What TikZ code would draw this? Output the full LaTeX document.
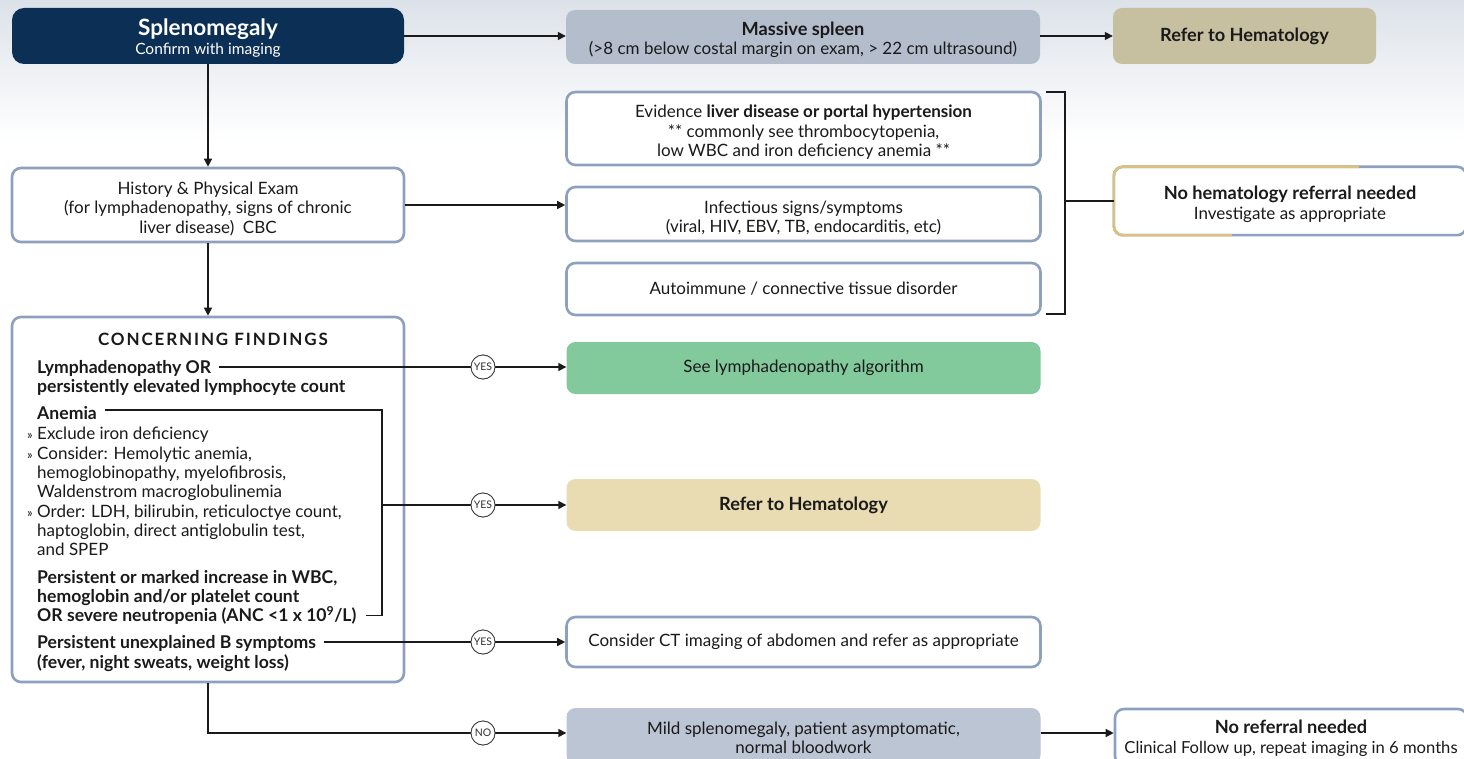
\documentclass[tikz,border=0pt]{standalone}
\usepackage{fontspec}
\setmainfont{Lato}
\usetikzlibrary{arrows.meta,calc}
\definecolor{bgtop}{HTML}{DCE2E9}
\definecolor{navy}{HTML}{0C2F55}
\definecolor{bord}{HTML}{8DA1BE}
\definecolor{massF}{HTML}{B3BDCC}
\definecolor{refTopF}{HTML}{C7C0A0}
\definecolor{greenF}{HTML}{82C99B}
\definecolor{refMidF}{HTML}{E9DCB3}
\definecolor{mildF}{HTML}{BCC5D4}
\definecolor{tanB}{HTML}{D8C27D}
\definecolor{ink}{HTML}{1A1A1A}
% extra height on a first line so that stacked lines sit centred
\newcommand\topfix[1][19]{\rule{0pt}{#1pt}}
\newcommand\hd{\fontsize{18.2}{19.5}\selectfont\bfseries}
\newcommand\gt{\makebox[10pt][l]{\fontsize{13}{13}\selectfont»}}
\begin{document}
\begin{tikzpicture}[x=1pt,y=-1pt,
  box/.style={rounded corners=9pt, minimum width=474pt, minimum height=52pt,
    align=center, inner sep=0pt, text=ink,
    font=\fontsize{17}{19.5}\selectfont},
  outline/.style={box, draw=bord, line width=2.6pt, fill=white},
  filled/.style={box, fill=#1},
  line/.style={line width=1.4pt, draw=ink},
  arr/.style={line, -{Triangle[length=8pt,width=8pt]}},
  yesno/.style={circle, draw=ink!85, line width=0.8pt, fill=white,
    minimum size=24pt, inner sep=0pt, text=ink!90,
    font=\fontsize{10.5}{10.5}\selectfont},
  item/.style={anchor=base west, inner sep=0pt, text=ink,
    font=\fontsize{17}{19}\selectfont},
  bitem/.style={item, font=\fontsize{17.6}{19}\selectfont\bfseries}
]
\useasboundingbox (0,0) rectangle (1464,759);
% soft header band
\shade[top color=bgtop, bottom color=white] (0,0) rectangle (1464,140);

% ---- top row
\node[box, fill=navy, rounded corners=12pt, minimum width=392pt, minimum height=56pt, text=white]
  (spl) at (208,36) {\topfix[21]{\fontsize{22.5}{22}\selectfont\bfseries Splenomegaly}\\[-1pt]
  {\fontsize{15.5}{17}\selectfont Confirm with imaging}};
\node[filled=massF, minimum height=54pt] (mass) at (803,37)
  {\topfix{\hd Massive spleen}\\
  (>8 cm below costal margin on exam, > 22 cm ultrasound)};
\node[filled=refTopF, minimum width=263pt, minimum height=56pt] (reftop) at (1244.5,36)
  {\hd Refer to Hematology};

% ---- differential column
\node[outline, minimum height=73pt] (evid) at (803.5,128.5)
  {\topfix[20]Evidence \textbf{liver disease or portal hypertension}\\
  ** commonly see thrombocytopenia,\\
  low WBC and iron deficiency anemia **};
\node[outline, minimum height=54pt] (infect) at (803.5,214)
  {\topfix[20]Infectious signs/symptoms\\(viral, HIV, EBV, TB, endocarditis, etc)};
\node[outline, minimum height=52pt] (auto) at (803.5,289)
  {Autoimmune / connective tissue disorder};

% ---- history
\node[outline, minimum width=392pt, minimum height=74pt] (hist) at (208,205)
  {\topfix[20]History \& Physical Exam\\(for lymphadenopathy, signs of chronic\\liver disease)\ \ CBC};

% ---- no hematology referral (two-tone outline)
\node[box, minimum width=352pt, minimum height=68pt, fill=white] (nohem) at (1290,201)
  {\topfix[20]{\hd No hematology referral needed}\\
  Investigate as appropriate};
\draw[bord, line width=2.6pt, rounded corners=9pt] (nohem.north west) rectangle (nohem.south east);
\draw[tanB, line width=2.6pt, rounded corners=9pt]
  ($(nohem.north west)+(245,0)$) -| (nohem.south west) -- ($(nohem.south west)+(118,0)$);

% ---- concerning findings panel
\node[box, draw=bord, line width=2.6pt, fill=white, minimum width=392pt, minimum height=365pt]
  (conc) at (208,499.5) {};
\node[anchor=base, inner sep=0pt, text=ink,
  font=\fontsize{17}{18}\selectfont\bfseries\addfontfeatures{LetterSpace=11}]
  (ctitle) at (213,345) {CONCERNING FINDINGS};
\node[bitem] (ly1) at (37,373) {Lymphadenopathy OR};
\node[bitem] (ly2) at (37,392) {persistently elevated lymphocyte count};
\node[bitem] (an) at (37,419.5) {Anemia};
\node[item] (b1) at (27,439) {\gt Exclude iron deficiency};
\node[item] (b2) at (27,459) {\gt Consider: Hemolytic anemia,};
\node[item] (b2a) at (37,478.5) {hemoglobinopathy, myelofibrosis,};
\node[item] (b2b) at (37,497.5) {Waldenstrom macroglobulinemia};
\node[item] (b3) at (27,517) {\gt Order: LDH, bilirubin, reticuloctye count,};
\node[item] (b3a) at (37,536) {haptoglobin, direct antiglobulin test,};
\node[item] (b3b) at (37,555) {and SPEP};
\node[bitem] (wbc1) at (37,583) {Persistent or marked increase in WBC,};
\node[bitem] (wbc2) at (37,602.5) {hemoglobin and/or platelet count};
\node[bitem] (wbc3) at (37,621.5) {OR severe neutropenia (ANC <1 x 10\textsuperscript{9}/L)};
\node[bitem] (bs1) at (37,648.5) {Persistent unexplained B symptoms};
\node[bitem] (bs2) at (37,668) {(fever, night sweats, weight loss)};

% ---- outcome column
\node[filled=greenF] (green) at (803.5,368) {See lymphadenopathy algorithm};
\node[filled=refMidF] (refmid) at (803.5,505) {\hd Refer to Hematology};
\node[outline, minimum height=50pt] (ct) at (803.5,642) {Consider CT imaging of abdomen and refer as appropriate};
\node[filled=mildF, minimum height=56pt] (mild) at (803.5,736)
  {\topfix[16]Mild splenomegaly, patient asymptomatic,\\normal bloodwork};
\node[outline, minimum width=352pt, minimum height=56pt] (noref) at (1291,737)
  {\topfix[16]{\hd No referral needed}\\
  {\fontsize{16.6}{19}\selectfont Clinical Follow up, repeat imaging in 6 months}};

% ---- decision markers
\node[yesno] (yes1) at (483,367) {YES};
\node[yesno] (yes2) at (483,505) {YES};
\node[yesno] (yes3) at (483,642) {YES};
\node[yesno] (no) at (483,733) {NO};

% ---- connectors
\draw[arr] (spl.east) -- (spl.east -| mass.west);
\draw[arr] (mass.east |- reftop.west) -- (reftop.west);
\draw[arr] (spl.south) -- (hist.north);
\draw[arr] (hist.east) -- (hist.east -| infect.west);
\draw[arr] (hist.south) -- (conc.north);

% bracket grouping the three differential boxes
\coordinate (brT) at (1046,92);
\coordinate (brB) at (1046,314);
\coordinate (brM) at (1065,201);
\draw[line] (brT) -- ++(19,0) -- ++(0,222) -- (brB);
\draw[line] (brM) -- (nohem.west);

\draw[line] ($(yes1.west -| ly1.east)+(8,0)$) -- (yes1);
\draw[arr] (yes1) -- (yes1 -| green.west);

\coordinate (anj) at (382,505);
\draw[line] ($(an.east)+(8,-3)$) -| (anj) |- ($(wbc3.east)+(9,0)$);
\draw[line] (anj) -- (yes2);
\draw[arr] (yes2) -- (yes2 -| refmid.west);

\draw[line] ($(yes3.west -| bs1.east)+(8,0)$) -- (yes3);
\draw[arr] (yes3) -- (yes3 -| ct.west);

\draw[line] (conc.south) |- (no);
\draw[arr] (no) -- (no -| mild.west);
\draw[arr] (no -| mild.east) -- (no -| noref.west);

% markers sit on top of the lines
\node[yesno] at (yes1) {YES};
\node[yesno] at (yes2) {YES};
\node[yesno] at (yes3) {YES};
\node[yesno] at (no) {NO};
\end{tikzpicture}
\end{document}
